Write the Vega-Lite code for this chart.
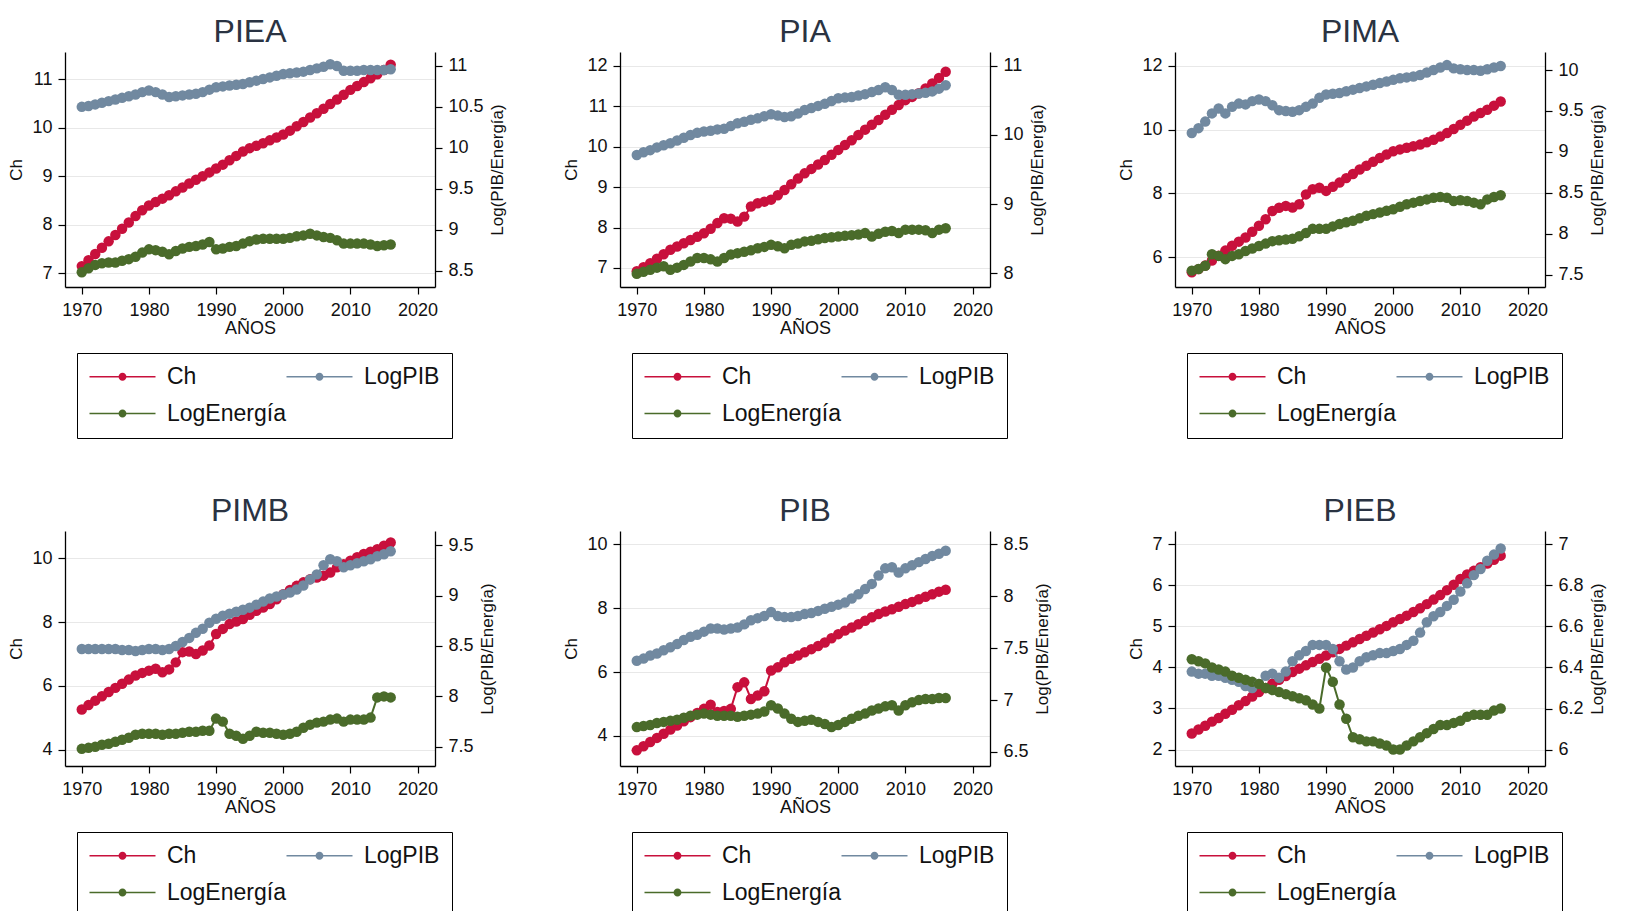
{
"$schema": "https://vega.github.io/schema/vega-lite/v6.json",
"padding": {"left": 7, "top": 16, "right": 10, "bottom": 5},
"datasets": {
"PIEA": [
{"a":1970,"Ch":7.15,"LogPIB":10.50,"LogEnergía":8.48},{"a":1971,"Ch":7.27,"LogPIB":10.51,"LogEnergía":8.53},{"a":1972,"Ch":7.40,"LogPIB":10.53,"LogEnergía":8.57},{"a":1973,"Ch":7.53,"LogPIB":10.55,"LogEnergía":8.59},{"a":1974,"Ch":7.66,"LogPIB":10.57,"LogEnergía":8.60},{"a":1975,"Ch":7.79,"LogPIB":10.59,"LogEnergía":8.60},{"a":1976,"Ch":7.92,"LogPIB":10.61,"LogEnergía":8.62},{"a":1977,"Ch":8.05,"LogPIB":10.63,"LogEnergía":8.64},{"a":1978,"Ch":8.18,"LogPIB":10.65,"LogEnergía":8.67},{"a":1979,"Ch":8.30,"LogPIB":10.68,"LogEnergía":8.72},
{"a":1980,"Ch":8.40,"LogPIB":10.70,"LogEnergía":8.76},{"a":1981,"Ch":8.47,"LogPIB":10.68,"LogEnergía":8.75},{"a":1982,"Ch":8.54,"LogPIB":10.65,"LogEnergía":8.73},{"a":1983,"Ch":8.61,"LogPIB":10.62,"LogEnergía":8.70},{"a":1984,"Ch":8.69,"LogPIB":10.63,"LogEnergía":8.74},{"a":1985,"Ch":8.77,"LogPIB":10.64,"LogEnergía":8.77},{"a":1986,"Ch":8.85,"LogPIB":10.65,"LogEnergía":8.79},{"a":1987,"Ch":8.93,"LogPIB":10.66,"LogEnergía":8.80},{"a":1988,"Ch":9.00,"LogPIB":10.68,"LogEnergía":8.82},{"a":1989,"Ch":9.08,"LogPIB":10.71,"LogEnergía":8.85},
{"a":1990,"Ch":9.16,"LogPIB":10.74,"LogEnergía":8.76},{"a":1991,"Ch":9.24,"LogPIB":10.75,"LogEnergía":8.77},{"a":1992,"Ch":9.33,"LogPIB":10.76,"LogEnergía":8.79},{"a":1993,"Ch":9.42,"LogPIB":10.77,"LogEnergía":8.80},{"a":1994,"Ch":9.51,"LogPIB":10.78,"LogEnergía":8.83},{"a":1995,"Ch":9.58,"LogPIB":10.80,"LogEnergía":8.86},{"a":1996,"Ch":9.63,"LogPIB":10.82,"LogEnergía":8.88},{"a":1997,"Ch":9.68,"LogPIB":10.84,"LogEnergía":8.89},{"a":1998,"Ch":9.74,"LogPIB":10.86,"LogEnergía":8.89},{"a":1999,"Ch":9.80,"LogPIB":10.88,"LogEnergía":8.89},
{"a":2000,"Ch":9.86,"LogPIB":10.90,"LogEnergía":8.89},{"a":2001,"Ch":9.94,"LogPIB":10.91,"LogEnergía":8.90},{"a":2002,"Ch":10.03,"LogPIB":10.92,"LogEnergía":8.92},{"a":2003,"Ch":10.12,"LogPIB":10.93,"LogEnergía":8.93},{"a":2004,"Ch":10.21,"LogPIB":10.95,"LogEnergía":8.95},{"a":2005,"Ch":10.30,"LogPIB":10.97,"LogEnergía":8.93},{"a":2006,"Ch":10.39,"LogPIB":10.99,"LogEnergía":8.91},{"a":2007,"Ch":10.49,"LogPIB":11.02,"LogEnergía":8.90},{"a":2008,"Ch":10.58,"LogPIB":11.00,"LogEnergía":8.87},{"a":2009,"Ch":10.68,"LogPIB":10.94,"LogEnergía":8.83},
{"a":2010,"Ch":10.78,"LogPIB":10.94,"LogEnergía":8.83},{"a":2011,"Ch":10.86,"LogPIB":10.94,"LogEnergía":8.83},{"a":2012,"Ch":10.94,"LogPIB":10.95,"LogEnergía":8.83},{"a":2013,"Ch":11.02,"LogPIB":10.95,"LogEnergía":8.82},{"a":2014,"Ch":11.10,"LogPIB":10.95,"LogEnergía":8.80},{"a":2015,"Ch":11.19,"LogPIB":10.95,"LogEnergía":8.81},{"a":2016,"Ch":11.30,"LogPIB":10.96,"LogEnergía":8.82}
],
"PIA": [
{"a":1970,"Ch":6.92,"LogPIB":9.71,"LogEnergía":7.99},{"a":1971,"Ch":7.02,"LogPIB":9.75,"LogEnergía":8.02},{"a":1972,"Ch":7.12,"LogPIB":9.78,"LogEnergía":8.05},{"a":1973,"Ch":7.23,"LogPIB":9.82,"LogEnergía":8.08},{"a":1974,"Ch":7.34,"LogPIB":9.85,"LogEnergía":8.10},{"a":1975,"Ch":7.45,"LogPIB":9.88,"LogEnergía":8.05},{"a":1976,"Ch":7.53,"LogPIB":9.92,"LogEnergía":8.08},{"a":1977,"Ch":7.61,"LogPIB":9.96,"LogEnergía":8.12},{"a":1978,"Ch":7.69,"LogPIB":10.00,"LogEnergía":8.17},{"a":1979,"Ch":7.77,"LogPIB":10.03,"LogEnergía":8.22},
{"a":1980,"Ch":7.86,"LogPIB":10.05,"LogEnergía":8.22},{"a":1981,"Ch":7.97,"LogPIB":10.06,"LogEnergía":8.20},{"a":1982,"Ch":8.11,"LogPIB":10.08,"LogEnergía":8.17},{"a":1983,"Ch":8.23,"LogPIB":10.09,"LogEnergía":8.22},{"a":1984,"Ch":8.22,"LogPIB":10.13,"LogEnergía":8.27},{"a":1985,"Ch":8.15,"LogPIB":10.17,"LogEnergía":8.29},{"a":1986,"Ch":8.27,"LogPIB":10.19,"LogEnergía":8.31},{"a":1987,"Ch":8.52,"LogPIB":10.22,"LogEnergía":8.33},{"a":1988,"Ch":8.60,"LogPIB":10.24,"LogEnergía":8.36},{"a":1989,"Ch":8.64,"LogPIB":10.27,"LogEnergía":8.38},
{"a":1990,"Ch":8.69,"LogPIB":10.30,"LogEnergía":8.41},{"a":1991,"Ch":8.80,"LogPIB":10.28,"LogEnergía":8.39},{"a":1992,"Ch":8.93,"LogPIB":10.26,"LogEnergía":8.36},{"a":1993,"Ch":9.07,"LogPIB":10.27,"LogEnergía":8.41},{"a":1994,"Ch":9.21,"LogPIB":10.31,"LogEnergía":8.43},{"a":1995,"Ch":9.34,"LogPIB":10.36,"LogEnergía":8.46},{"a":1996,"Ch":9.45,"LogPIB":10.39,"LogEnergía":8.47},{"a":1997,"Ch":9.56,"LogPIB":10.42,"LogEnergía":8.49},{"a":1998,"Ch":9.67,"LogPIB":10.45,"LogEnergía":8.51},{"a":1999,"Ch":9.80,"LogPIB":10.49,"LogEnergía":8.52},
{"a":2000,"Ch":9.92,"LogPIB":10.53,"LogEnergía":8.53},{"a":2001,"Ch":10.04,"LogPIB":10.54,"LogEnergía":8.54},{"a":2002,"Ch":10.16,"LogPIB":10.55,"LogEnergía":8.55},{"a":2003,"Ch":10.29,"LogPIB":10.57,"LogEnergía":8.56},{"a":2004,"Ch":10.42,"LogPIB":10.59,"LogEnergía":8.58},{"a":2005,"Ch":10.54,"LogPIB":10.62,"LogEnergía":8.53},{"a":2006,"Ch":10.66,"LogPIB":10.65,"LogEnergía":8.57},{"a":2007,"Ch":10.79,"LogPIB":10.69,"LogEnergía":8.60},{"a":2008,"Ch":10.91,"LogPIB":10.65,"LogEnergía":8.61},{"a":2009,"Ch":11.03,"LogPIB":10.58,"LogEnergía":8.58},
{"a":2010,"Ch":11.15,"LogPIB":10.58,"LogEnergía":8.63},{"a":2011,"Ch":11.23,"LogPIB":10.59,"LogEnergía":8.63},{"a":2012,"Ch":11.32,"LogPIB":10.60,"LogEnergía":8.63},{"a":2013,"Ch":11.44,"LogPIB":10.61,"LogEnergía":8.62},{"a":2014,"Ch":11.56,"LogPIB":10.63,"LogEnergía":8.58},{"a":2015,"Ch":11.70,"LogPIB":10.67,"LogEnergía":8.63},{"a":2016,"Ch":11.85,"LogPIB":10.72,"LogEnergía":8.65}
],
"PIMA": [
{"a":1970,"Ch":5.53,"LogPIB":9.23,"LogEnergía":7.55},{"a":1971,"Ch":5.63,"LogPIB":9.29,"LogEnergía":7.57},{"a":1972,"Ch":5.74,"LogPIB":9.37,"LogEnergía":7.61},{"a":1973,"Ch":5.90,"LogPIB":9.47,"LogEnergía":7.75},{"a":1974,"Ch":6.05,"LogPIB":9.53,"LogEnergía":7.73},{"a":1975,"Ch":6.21,"LogPIB":9.47,"LogEnergía":7.69},{"a":1976,"Ch":6.36,"LogPIB":9.55,"LogEnergía":7.73},{"a":1977,"Ch":6.49,"LogPIB":9.59,"LogEnergía":7.75},{"a":1978,"Ch":6.62,"LogPIB":9.58,"LogEnergía":7.79},{"a":1979,"Ch":6.80,"LogPIB":9.62,"LogEnergía":7.82},
{"a":1980,"Ch":6.99,"LogPIB":9.64,"LogEnergía":7.85},{"a":1981,"Ch":7.19,"LogPIB":9.62,"LogEnergía":7.88},{"a":1982,"Ch":7.45,"LogPIB":9.57,"LogEnergía":7.91},{"a":1983,"Ch":7.55,"LogPIB":9.51,"LogEnergía":7.92},{"a":1984,"Ch":7.61,"LogPIB":9.50,"LogEnergía":7.93},{"a":1985,"Ch":7.56,"LogPIB":9.49,"LogEnergía":7.94},{"a":1986,"Ch":7.66,"LogPIB":9.51,"LogEnergía":7.97},{"a":1987,"Ch":7.97,"LogPIB":9.55,"LogEnergía":8.01},{"a":1988,"Ch":8.13,"LogPIB":9.59,"LogEnergía":8.06},{"a":1989,"Ch":8.18,"LogPIB":9.66,"LogEnergía":8.06},
{"a":1990,"Ch":8.08,"LogPIB":9.70,"LogEnergía":8.06},{"a":1991,"Ch":8.21,"LogPIB":9.71,"LogEnergía":8.09},{"a":1992,"Ch":8.34,"LogPIB":9.72,"LogEnergía":8.12},{"a":1993,"Ch":8.48,"LogPIB":9.74,"LogEnergía":8.14},{"a":1994,"Ch":8.61,"LogPIB":9.76,"LogEnergía":8.16},{"a":1995,"Ch":8.75,"LogPIB":9.78,"LogEnergía":8.19},{"a":1996,"Ch":8.87,"LogPIB":9.80,"LogEnergía":8.22},{"a":1997,"Ch":8.99,"LogPIB":9.82,"LogEnergía":8.24},{"a":1998,"Ch":9.11,"LogPIB":9.84,"LogEnergía":8.26},{"a":1999,"Ch":9.22,"LogPIB":9.86,"LogEnergía":8.28},
{"a":2000,"Ch":9.32,"LogPIB":9.88,"LogEnergía":8.30},{"a":2001,"Ch":9.38,"LogPIB":9.90,"LogEnergía":8.33},{"a":2002,"Ch":9.43,"LogPIB":9.91,"LogEnergía":8.36},{"a":2003,"Ch":9.48,"LogPIB":9.92,"LogEnergía":8.38},{"a":2004,"Ch":9.53,"LogPIB":9.94,"LogEnergía":8.40},{"a":2005,"Ch":9.60,"LogPIB":9.97,"LogEnergía":8.42},{"a":2006,"Ch":9.68,"LogPIB":10.00,"LogEnergía":8.44},{"a":2007,"Ch":9.78,"LogPIB":10.03,"LogEnergía":8.45},{"a":2008,"Ch":9.89,"LogPIB":10.06,"LogEnergía":8.44},{"a":2009,"Ch":10.02,"LogPIB":10.02,"LogEnergía":8.40},
{"a":2010,"Ch":10.15,"LogPIB":10.01,"LogEnergía":8.41},{"a":2011,"Ch":10.28,"LogPIB":10.00,"LogEnergía":8.40},{"a":2012,"Ch":10.41,"LogPIB":10.00,"LogEnergía":8.38},{"a":2013,"Ch":10.52,"LogPIB":9.99,"LogEnergía":8.36},{"a":2014,"Ch":10.62,"LogPIB":10.01,"LogEnergía":8.42},{"a":2015,"Ch":10.75,"LogPIB":10.03,"LogEnergía":8.45},{"a":2016,"Ch":10.88,"LogPIB":10.05,"LogEnergía":8.47}
],
"PIMB": [
{"a":1970,"Ch":5.26,"LogPIB":8.47,"LogEnergía":7.48},{"a":1971,"Ch":5.40,"LogPIB":8.47,"LogEnergía":7.49},{"a":1972,"Ch":5.54,"LogPIB":8.47,"LogEnergía":7.50},{"a":1973,"Ch":5.68,"LogPIB":8.47,"LogEnergía":7.52},{"a":1974,"Ch":5.81,"LogPIB":8.47,"LogEnergía":7.53},{"a":1975,"Ch":5.94,"LogPIB":8.47,"LogEnergía":7.55},{"a":1976,"Ch":6.07,"LogPIB":8.46,"LogEnergía":7.57},{"a":1977,"Ch":6.20,"LogPIB":8.46,"LogEnergía":7.59},{"a":1978,"Ch":6.33,"LogPIB":8.45,"LogEnergía":7.62},{"a":1979,"Ch":6.41,"LogPIB":8.46,"LogEnergía":7.63},
{"a":1980,"Ch":6.48,"LogPIB":8.47,"LogEnergía":7.63},{"a":1981,"Ch":6.54,"LogPIB":8.47,"LogEnergía":7.63},{"a":1982,"Ch":6.43,"LogPIB":8.46,"LogEnergía":7.62},{"a":1983,"Ch":6.52,"LogPIB":8.47,"LogEnergía":7.63},{"a":1984,"Ch":6.74,"LogPIB":8.50,"LogEnergía":7.63},{"a":1985,"Ch":7.06,"LogPIB":8.54,"LogEnergía":7.64},{"a":1986,"Ch":7.08,"LogPIB":8.58,"LogEnergía":7.65},{"a":1987,"Ch":7.00,"LogPIB":8.63,"LogEnergía":7.65},{"a":1988,"Ch":7.11,"LogPIB":8.67,"LogEnergía":7.66},{"a":1989,"Ch":7.27,"LogPIB":8.73,"LogEnergía":7.66},
{"a":1990,"Ch":7.63,"LogPIB":8.77,"LogEnergía":7.78},{"a":1991,"Ch":7.79,"LogPIB":8.80,"LogEnergía":7.75},{"a":1992,"Ch":7.94,"LogPIB":8.82,"LogEnergía":7.63},{"a":1993,"Ch":8.02,"LogPIB":8.84,"LogEnergía":7.61},{"a":1994,"Ch":8.10,"LogPIB":8.86,"LogEnergía":7.58},{"a":1995,"Ch":8.23,"LogPIB":8.88,"LogEnergía":7.61},{"a":1996,"Ch":8.36,"LogPIB":8.91,"LogEnergía":7.65},{"a":1997,"Ch":8.46,"LogPIB":8.94,"LogEnergía":7.64},{"a":1998,"Ch":8.57,"LogPIB":8.97,"LogEnergía":7.64},{"a":1999,"Ch":8.72,"LogPIB":8.99,"LogEnergía":7.63},
{"a":2000,"Ch":8.88,"LogPIB":9.01,"LogEnergía":7.62},{"a":2001,"Ch":9.01,"LogPIB":9.03,"LogEnergía":7.63},{"a":2002,"Ch":9.14,"LogPIB":9.06,"LogEnergía":7.65},{"a":2003,"Ch":9.25,"LogPIB":9.10,"LogEnergía":7.69},{"a":2004,"Ch":9.35,"LogPIB":9.16,"LogEnergía":7.72},{"a":2005,"Ch":9.40,"LogPIB":9.21,"LogEnergía":7.74},{"a":2006,"Ch":9.46,"LogPIB":9.30,"LogEnergía":7.75},{"a":2007,"Ch":9.56,"LogPIB":9.36,"LogEnergía":7.77},{"a":2008,"Ch":9.72,"LogPIB":9.34,"LogEnergía":7.78},{"a":2009,"Ch":9.82,"LogPIB":9.28,"LogEnergía":7.75},
{"a":2010,"Ch":9.93,"LogPIB":9.30,"LogEnergía":7.77},{"a":2011,"Ch":10.04,"LogPIB":9.32,"LogEnergía":7.77},{"a":2012,"Ch":10.14,"LogPIB":9.34,"LogEnergía":7.77},{"a":2013,"Ch":10.21,"LogPIB":9.36,"LogEnergía":7.79},{"a":2014,"Ch":10.29,"LogPIB":9.39,"LogEnergía":7.99},{"a":2015,"Ch":10.40,"LogPIB":9.41,"LogEnergía":8.00},{"a":2016,"Ch":10.50,"LogPIB":9.44,"LogEnergía":7.99}
],
"PIB": [
{"a":1970,"Ch":3.55,"LogPIB":7.38,"LogEnergía":6.74},{"a":1971,"Ch":3.68,"LogPIB":7.40,"LogEnergía":6.75},{"a":1972,"Ch":3.81,"LogPIB":7.43,"LogEnergía":6.76},{"a":1973,"Ch":3.94,"LogPIB":7.45,"LogEnergía":6.78},{"a":1974,"Ch":4.07,"LogPIB":7.48,"LogEnergía":6.79},{"a":1975,"Ch":4.20,"LogPIB":7.51,"LogEnergía":6.80},{"a":1976,"Ch":4.33,"LogPIB":7.54,"LogEnergía":6.81},{"a":1977,"Ch":4.46,"LogPIB":7.58,"LogEnergía":6.83},{"a":1978,"Ch":4.59,"LogPIB":7.61,"LogEnergía":6.85},{"a":1979,"Ch":4.72,"LogPIB":7.63,"LogEnergía":6.86},
{"a":1980,"Ch":4.85,"LogPIB":7.66,"LogEnergía":6.87},{"a":1981,"Ch":4.98,"LogPIB":7.69,"LogEnergía":6.86},{"a":1982,"Ch":4.75,"LogPIB":7.69,"LogEnergía":6.85},{"a":1983,"Ch":4.78,"LogPIB":7.68,"LogEnergía":6.85},{"a":1984,"Ch":4.85,"LogPIB":7.69,"LogEnergía":6.85},{"a":1985,"Ch":5.53,"LogPIB":7.70,"LogEnergía":6.84},{"a":1986,"Ch":5.68,"LogPIB":7.73,"LogEnergía":6.85},{"a":1987,"Ch":5.16,"LogPIB":7.77,"LogEnergía":6.86},{"a":1988,"Ch":5.27,"LogPIB":7.79,"LogEnergía":6.87},{"a":1989,"Ch":5.40,"LogPIB":7.81,"LogEnergía":6.89},
{"a":1990,"Ch":6.05,"LogPIB":7.85,"LogEnergía":6.95},{"a":1991,"Ch":6.15,"LogPIB":7.81,"LogEnergía":6.92},{"a":1992,"Ch":6.31,"LogPIB":7.80,"LogEnergía":6.87},{"a":1993,"Ch":6.42,"LogPIB":7.80,"LogEnergía":6.82},{"a":1994,"Ch":6.52,"LogPIB":7.81,"LogEnergía":6.79},{"a":1995,"Ch":6.62,"LogPIB":7.83,"LogEnergía":6.80},{"a":1996,"Ch":6.72,"LogPIB":7.84,"LogEnergía":6.81},{"a":1997,"Ch":6.82,"LogPIB":7.86,"LogEnergía":6.79},{"a":1998,"Ch":6.93,"LogPIB":7.88,"LogEnergía":6.77},{"a":1999,"Ch":7.06,"LogPIB":7.90,"LogEnergía":6.74},
{"a":2000,"Ch":7.19,"LogPIB":7.92,"LogEnergía":6.76},{"a":2001,"Ch":7.30,"LogPIB":7.94,"LogEnergía":6.79},{"a":2002,"Ch":7.40,"LogPIB":7.98,"LogEnergía":6.82},{"a":2003,"Ch":7.50,"LogPIB":8.02,"LogEnergía":6.85},{"a":2004,"Ch":7.61,"LogPIB":8.07,"LogEnergía":6.87},{"a":2005,"Ch":7.72,"LogPIB":8.12,"LogEnergía":6.90},{"a":2006,"Ch":7.82,"LogPIB":8.20,"LogEnergía":6.92},{"a":2007,"Ch":7.90,"LogPIB":8.27,"LogEnergía":6.94},{"a":2008,"Ch":7.97,"LogPIB":8.28,"LogEnergía":6.95},{"a":2009,"Ch":8.05,"LogPIB":8.23,"LogEnergía":6.90},
{"a":2010,"Ch":8.13,"LogPIB":8.27,"LogEnergía":6.95},{"a":2011,"Ch":8.20,"LogPIB":8.30,"LogEnergía":6.98},{"a":2012,"Ch":8.28,"LogPIB":8.33,"LogEnergía":7.00},{"a":2013,"Ch":8.36,"LogPIB":8.36,"LogEnergía":7.01},{"a":2014,"Ch":8.44,"LogPIB":8.39,"LogEnergía":7.01},{"a":2015,"Ch":8.52,"LogPIB":8.41,"LogEnergía":7.02},{"a":2016,"Ch":8.58,"LogPIB":8.44,"LogEnergía":7.02}
],
"PIEB": [
{"a":1970,"Ch":2.39,"LogPIB":6.38,"LogEnergía":6.44},{"a":1971,"Ch":2.49,"LogPIB":6.37,"LogEnergía":6.43},{"a":1972,"Ch":2.58,"LogPIB":6.37,"LogEnergía":6.42},{"a":1973,"Ch":2.68,"LogPIB":6.36,"LogEnergía":6.40},{"a":1974,"Ch":2.77,"LogPIB":6.36,"LogEnergía":6.39},{"a":1975,"Ch":2.87,"LogPIB":6.35,"LogEnergía":6.38},{"a":1976,"Ch":2.97,"LogPIB":6.34,"LogEnergía":6.36},{"a":1977,"Ch":3.08,"LogPIB":6.33,"LogEnergía":6.35},{"a":1978,"Ch":3.18,"LogPIB":6.31,"LogEnergía":6.34},{"a":1979,"Ch":3.29,"LogPIB":6.30,"LogEnergía":6.33},
{"a":1980,"Ch":3.40,"LogPIB":6.32,"LogEnergía":6.32},{"a":1981,"Ch":3.50,"LogPIB":6.36,"LogEnergía":6.30},{"a":1982,"Ch":3.60,"LogPIB":6.37,"LogEnergía":6.29},{"a":1983,"Ch":3.70,"LogPIB":6.35,"LogEnergía":6.28},{"a":1984,"Ch":3.79,"LogPIB":6.38,"LogEnergía":6.27},{"a":1985,"Ch":3.89,"LogPIB":6.43,"LogEnergía":6.26},{"a":1986,"Ch":3.97,"LogPIB":6.46,"LogEnergía":6.25},{"a":1987,"Ch":4.05,"LogPIB":6.48,"LogEnergía":6.24},{"a":1988,"Ch":4.13,"LogPIB":6.51,"LogEnergía":6.22},{"a":1989,"Ch":4.21,"LogPIB":6.51,"LogEnergía":6.20},
{"a":1990,"Ch":4.29,"LogPIB":6.51,"LogEnergía":6.40},{"a":1991,"Ch":4.37,"LogPIB":6.49,"LogEnergía":6.33},{"a":1992,"Ch":4.45,"LogPIB":6.43,"LogEnergía":6.22},{"a":1993,"Ch":4.53,"LogPIB":6.39,"LogEnergía":6.15},{"a":1994,"Ch":4.61,"LogPIB":6.40,"LogEnergía":6.06},{"a":1995,"Ch":4.69,"LogPIB":6.43,"LogEnergía":6.05},{"a":1996,"Ch":4.77,"LogPIB":6.45,"LogEnergía":6.04},{"a":1997,"Ch":4.85,"LogPIB":6.46,"LogEnergía":6.04},{"a":1998,"Ch":4.93,"LogPIB":6.47,"LogEnergía":6.03},{"a":1999,"Ch":5.01,"LogPIB":6.47,"LogEnergía":6.02},
{"a":2000,"Ch":5.10,"LogPIB":6.48,"LogEnergía":6.00},{"a":2001,"Ch":5.18,"LogPIB":6.49,"LogEnergía":6.00},{"a":2002,"Ch":5.26,"LogPIB":6.51,"LogEnergía":6.02},{"a":2003,"Ch":5.35,"LogPIB":6.53,"LogEnergía":6.04},{"a":2004,"Ch":5.44,"LogPIB":6.57,"LogEnergía":6.06},{"a":2005,"Ch":5.54,"LogPIB":6.62,"LogEnergía":6.08},{"a":2006,"Ch":5.65,"LogPIB":6.65,"LogEnergía":6.10},{"a":2007,"Ch":5.76,"LogPIB":6.67,"LogEnergía":6.12},{"a":2008,"Ch":5.88,"LogPIB":6.70,"LogEnergía":6.12},{"a":2009,"Ch":6.01,"LogPIB":6.73,"LogEnergía":6.13},
{"a":2010,"Ch":6.15,"LogPIB":6.77,"LogEnergía":6.14},{"a":2011,"Ch":6.26,"LogPIB":6.81,"LogEnergía":6.16},{"a":2012,"Ch":6.35,"LogPIB":6.85,"LogEnergía":6.17},{"a":2013,"Ch":6.44,"LogPIB":6.88,"LogEnergía":6.17},{"a":2014,"Ch":6.53,"LogPIB":6.92,"LogEnergía":6.17},{"a":2015,"Ch":6.62,"LogPIB":6.95,"LogEnergía":6.19},{"a":2016,"Ch":6.72,"LogPIB":6.98,"LogEnergía":6.20}
]
},
"columns": 3,
"spacing": {"row": 244, "column": 185},
"bounds": "flush",
"resolve": {"scale": {"color": "independent"}, "legend": {"color": "independent"}},
"concat": [
{"title": "PIEA", "data": {"name": "PIEA"}, "width": 370, "height": 235,
 "transform": [{"fold": ["Ch","LogPIB","LogEnergía"], "as": ["serie","valor"]}],
 "encoding": {"x": {"field": "a", "type": "quantitative", "scale": {"domain": [1967.5, 2022.6], "nice": false, "zero": false}, "axis": {"values": [1970,1980,1990,2000,2010,2020], "format": "d", "title": "AÑOS", "grid": false}}},
 "layer": [
  {"transform": [{"filter": "datum.serie == 'Ch'"}],
   "encoding": {"y": {"field": "valor", "type": "quantitative", "scale": {"domain": [6.72, 11.56], "nice": false, "zero": false}, "axis": {"orient": "left", "title": "Ch", "values": [7,8,9,10,11], "format": "~r", "grid": true}}},
   "layer": [
    {"mark": {"type": "line", "strokeWidth": 2}, "encoding": {"stroke": {"field": "serie", "type": "nominal", "scale": {"domain": ["Ch","LogPIB","LogEnergía"], "range": ["#c8103c","#7189a0","#4a6b2a"]}, "legend": null}}},
    {"mark": {"type": "point", "filled": true, "size": 110, "opacity": 1, "strokeWidth": 0}, "encoding": {"color": {"field": "serie", "type": "nominal", "scale": {"domain": ["Ch","LogPIB","LogEnergía"], "range": ["#c8103c","#7189a0","#4a6b2a"]}, "legend": {"orient": "none", "legendX": 12, "legendY": 301, "title": null, "direction": "horizontal", "columns": 2, "gridAlign": "each", "symbolType": "M-3,-0.07L3,-0.07L3,0.07L-3,0.07Z M-0.36,0A0.36,0.36 0 1,1 0.36,0A0.36,0.36 0 1,1 -0.36,0Z", "symbolSize": 484, "symbolOffset": 22, "symbolStrokeWidth": 0}}}}
   ]},
  {"transform": [{"filter": "datum.serie != 'Ch'"}],
   "encoding": {"y": {"field": "valor", "type": "quantitative", "scale": {"domain": [8.30, 11.17], "nice": false, "zero": false}, "axis": {"orient": "right", "title": "Log(PIB/Energía)", "titleAngle": 270, "titleBaseline": "top", "values": [8.5,9,9.5,10,10.5,11], "format": "~r", "grid": false}}},
   "layer": [
    {"mark": {"type": "line", "strokeWidth": 2}, "encoding": {"stroke": {"field": "serie", "type": "nominal", "scale": {"domain": ["Ch","LogPIB","LogEnergía"], "range": ["#c8103c","#7189a0","#4a6b2a"]}, "legend": null}}},
    {"mark": {"type": "point", "filled": true, "size": 110, "opacity": 1, "strokeWidth": 0}, "encoding": {"color": {"field": "serie", "type": "nominal", "scale": {"domain": ["Ch","LogPIB","LogEnergía"], "range": ["#c8103c","#7189a0","#4a6b2a"]}, "legend": {"orient": "none", "legendX": 12, "legendY": 301, "title": null, "direction": "horizontal", "columns": 2, "gridAlign": "each", "symbolType": "M-3,-0.07L3,-0.07L3,0.07L-3,0.07Z M-0.36,0A0.36,0.36 0 1,1 0.36,0A0.36,0.36 0 1,1 -0.36,0Z", "symbolSize": 484, "symbolOffset": 22, "symbolStrokeWidth": 0}}}}
   ]}
 ],
 "resolve": {"scale": {"y": "independent"}}
},
{"title": "PIA", "data": {"name": "PIA"}, "width": 370, "height": 235,
 "transform": [{"fold": ["Ch","LogPIB","LogEnergía"], "as": ["serie","valor"]}],
 "encoding": {"x": {"field": "a", "type": "quantitative", "scale": {"domain": [1967.5, 2022.6], "nice": false, "zero": false}, "axis": {"values": [1970,1980,1990,2000,2010,2020], "format": "d", "title": "AÑOS", "grid": false}}},
 "layer": [
  {"transform": [{"filter": "datum.serie == 'Ch'"}],
   "encoding": {"y": {"field": "valor", "type": "quantitative", "scale": {"domain": [6.53, 12.34], "nice": false, "zero": false}, "axis": {"orient": "left", "title": "Ch", "values": [7,8,9,10,11,12], "format": "~r", "grid": true}}},
   "layer": [
    {"mark": {"type": "line", "strokeWidth": 2}, "encoding": {"stroke": {"field": "serie", "type": "nominal", "scale": {"domain": ["Ch","LogPIB","LogEnergía"], "range": ["#c8103c","#7189a0","#4a6b2a"]}, "legend": null}}},
    {"mark": {"type": "point", "filled": true, "size": 110, "opacity": 1, "strokeWidth": 0}, "encoding": {"color": {"field": "serie", "type": "nominal", "scale": {"domain": ["Ch","LogPIB","LogEnergía"], "range": ["#c8103c","#7189a0","#4a6b2a"]}, "legend": {"orient": "none", "legendX": 12, "legendY": 301, "title": null, "direction": "horizontal", "columns": 2, "gridAlign": "each", "symbolType": "M-3,-0.07L3,-0.07L3,0.07L-3,0.07Z M-0.36,0A0.36,0.36 0 1,1 0.36,0A0.36,0.36 0 1,1 -0.36,0Z", "symbolSize": 484, "symbolOffset": 22, "symbolStrokeWidth": 0}}}}
   ]},
  {"transform": [{"filter": "datum.serie != 'Ch'"}],
   "encoding": {"y": {"field": "valor", "type": "quantitative", "scale": {"domain": [7.8, 11.2], "nice": false, "zero": false}, "axis": {"orient": "right", "title": "Log(PIB/Energía)", "titleAngle": 270, "titleBaseline": "top", "values": [8,9,10,11], "format": "~r", "grid": false}}},
   "layer": [
    {"mark": {"type": "line", "strokeWidth": 2}, "encoding": {"stroke": {"field": "serie", "type": "nominal", "scale": {"domain": ["Ch","LogPIB","LogEnergía"], "range": ["#c8103c","#7189a0","#4a6b2a"]}, "legend": null}}},
    {"mark": {"type": "point", "filled": true, "size": 110, "opacity": 1, "strokeWidth": 0}, "encoding": {"color": {"field": "serie", "type": "nominal", "scale": {"domain": ["Ch","LogPIB","LogEnergía"], "range": ["#c8103c","#7189a0","#4a6b2a"]}, "legend": {"orient": "none", "legendX": 12, "legendY": 301, "title": null, "direction": "horizontal", "columns": 2, "gridAlign": "each", "symbolType": "M-3,-0.07L3,-0.07L3,0.07L-3,0.07Z M-0.36,0A0.36,0.36 0 1,1 0.36,0A0.36,0.36 0 1,1 -0.36,0Z", "symbolSize": 484, "symbolOffset": 22, "symbolStrokeWidth": 0}}}}
   ]}
 ],
 "resolve": {"scale": {"y": "independent"}}
},
{"title": "PIMA", "data": {"name": "PIMA"}, "width": 370, "height": 235,
 "transform": [{"fold": ["Ch","LogPIB","LogEnergía"], "as": ["serie","valor"]}],
 "encoding": {"x": {"field": "a", "type": "quantitative", "scale": {"domain": [1967.5, 2022.6], "nice": false, "zero": false}, "axis": {"values": [1970,1980,1990,2000,2010,2020], "format": "d", "title": "AÑOS", "grid": false}}},
 "layer": [
  {"transform": [{"filter": "datum.serie == 'Ch'"}],
   "encoding": {"y": {"field": "valor", "type": "quantitative", "scale": {"domain": [5.07, 12.43], "nice": false, "zero": false}, "axis": {"orient": "left", "title": "Ch", "values": [6,8,10,12], "format": "~r", "grid": true}}},
   "layer": [
    {"mark": {"type": "line", "strokeWidth": 2}, "encoding": {"stroke": {"field": "serie", "type": "nominal", "scale": {"domain": ["Ch","LogPIB","LogEnergía"], "range": ["#c8103c","#7189a0","#4a6b2a"]}, "legend": null}}},
    {"mark": {"type": "point", "filled": true, "size": 110, "opacity": 1, "strokeWidth": 0}, "encoding": {"color": {"field": "serie", "type": "nominal", "scale": {"domain": ["Ch","LogPIB","LogEnergía"], "range": ["#c8103c","#7189a0","#4a6b2a"]}, "legend": {"orient": "none", "legendX": 12, "legendY": 301, "title": null, "direction": "horizontal", "columns": 2, "gridAlign": "each", "symbolType": "M-3,-0.07L3,-0.07L3,0.07L-3,0.07Z M-0.36,0A0.36,0.36 0 1,1 0.36,0A0.36,0.36 0 1,1 -0.36,0Z", "symbolSize": 484, "symbolOffset": 22, "symbolStrokeWidth": 0}}}}
   ]},
  {"transform": [{"filter": "datum.serie != 'Ch'"}],
   "encoding": {"y": {"field": "valor", "type": "quantitative", "scale": {"domain": [7.35, 10.22], "nice": false, "zero": false}, "axis": {"orient": "right", "title": "Log(PIB/Energía)", "titleAngle": 270, "titleBaseline": "top", "values": [7.5,8,8.5,9,9.5,10], "format": "~r", "grid": false}}},
   "layer": [
    {"mark": {"type": "line", "strokeWidth": 2}, "encoding": {"stroke": {"field": "serie", "type": "nominal", "scale": {"domain": ["Ch","LogPIB","LogEnergía"], "range": ["#c8103c","#7189a0","#4a6b2a"]}, "legend": null}}},
    {"mark": {"type": "point", "filled": true, "size": 110, "opacity": 1, "strokeWidth": 0}, "encoding": {"color": {"field": "serie", "type": "nominal", "scale": {"domain": ["Ch","LogPIB","LogEnergía"], "range": ["#c8103c","#7189a0","#4a6b2a"]}, "legend": {"orient": "none", "legendX": 12, "legendY": 301, "title": null, "direction": "horizontal", "columns": 2, "gridAlign": "each", "symbolType": "M-3,-0.07L3,-0.07L3,0.07L-3,0.07Z M-0.36,0A0.36,0.36 0 1,1 0.36,0A0.36,0.36 0 1,1 -0.36,0Z", "symbolSize": 484, "symbolOffset": 22, "symbolStrokeWidth": 0}}}}
   ]}
 ],
 "resolve": {"scale": {"y": "independent"}}
},
{"title": "PIMB", "data": {"name": "PIMB"}, "width": 370, "height": 235,
 "transform": [{"fold": ["Ch","LogPIB","LogEnergía"], "as": ["serie","valor"]}],
 "encoding": {"x": {"field": "a", "type": "quantitative", "scale": {"domain": [1967.5, 2022.6], "nice": false, "zero": false}, "axis": {"values": [1970,1980,1990,2000,2010,2020], "format": "d", "title": "AÑOS", "grid": false}}},
 "layer": [
  {"transform": [{"filter": "datum.serie == 'Ch'"}],
   "encoding": {"y": {"field": "valor", "type": "quantitative", "scale": {"domain": [3.49, 10.86], "nice": false, "zero": false}, "axis": {"orient": "left", "title": "Ch", "values": [4,6,8,10], "format": "~r", "grid": true}}},
   "layer": [
    {"mark": {"type": "line", "strokeWidth": 2}, "encoding": {"stroke": {"field": "serie", "type": "nominal", "scale": {"domain": ["Ch","LogPIB","LogEnergía"], "range": ["#c8103c","#7189a0","#4a6b2a"]}, "legend": null}}},
    {"mark": {"type": "point", "filled": true, "size": 110, "opacity": 1, "strokeWidth": 0}, "encoding": {"color": {"field": "serie", "type": "nominal", "scale": {"domain": ["Ch","LogPIB","LogEnergía"], "range": ["#c8103c","#7189a0","#4a6b2a"]}, "legend": {"orient": "none", "legendX": 12, "legendY": 301, "title": null, "direction": "horizontal", "columns": 2, "gridAlign": "each", "symbolType": "M-3,-0.07L3,-0.07L3,0.07L-3,0.07Z M-0.36,0A0.36,0.36 0 1,1 0.36,0A0.36,0.36 0 1,1 -0.36,0Z", "symbolSize": 484, "symbolOffset": 22, "symbolStrokeWidth": 0}}}}
   ]},
  {"transform": [{"filter": "datum.serie != 'Ch'"}],
   "encoding": {"y": {"field": "valor", "type": "quantitative", "scale": {"domain": [7.31, 9.64], "nice": false, "zero": false}, "axis": {"orient": "right", "title": "Log(PIB/Energía)", "titleAngle": 270, "titleBaseline": "top", "values": [7.5,8,8.5,9,9.5], "format": "~r", "grid": false}}},
   "layer": [
    {"mark": {"type": "line", "strokeWidth": 2}, "encoding": {"stroke": {"field": "serie", "type": "nominal", "scale": {"domain": ["Ch","LogPIB","LogEnergía"], "range": ["#c8103c","#7189a0","#4a6b2a"]}, "legend": null}}},
    {"mark": {"type": "point", "filled": true, "size": 110, "opacity": 1, "strokeWidth": 0}, "encoding": {"color": {"field": "serie", "type": "nominal", "scale": {"domain": ["Ch","LogPIB","LogEnergía"], "range": ["#c8103c","#7189a0","#4a6b2a"]}, "legend": {"orient": "none", "legendX": 12, "legendY": 301, "title": null, "direction": "horizontal", "columns": 2, "gridAlign": "each", "symbolType": "M-3,-0.07L3,-0.07L3,0.07L-3,0.07Z M-0.36,0A0.36,0.36 0 1,1 0.36,0A0.36,0.36 0 1,1 -0.36,0Z", "symbolSize": 484, "symbolOffset": 22, "symbolStrokeWidth": 0}}}}
   ]}
 ],
 "resolve": {"scale": {"y": "independent"}}
},
{"title": "PIB", "data": {"name": "PIB"}, "width": 370, "height": 235,
 "transform": [{"fold": ["Ch","LogPIB","LogEnergía"], "as": ["serie","valor"]}],
 "encoding": {"x": {"field": "a", "type": "quantitative", "scale": {"domain": [1967.5, 2022.6], "nice": false, "zero": false}, "axis": {"values": [1970,1980,1990,2000,2010,2020], "format": "d", "title": "AÑOS", "grid": false}}},
 "layer": [
  {"transform": [{"filter": "datum.serie == 'Ch'"}],
   "encoding": {"y": {"field": "valor", "type": "quantitative", "scale": {"domain": [3.06, 10.42], "nice": false, "zero": false}, "axis": {"orient": "left", "title": "Ch", "values": [4,6,8,10], "format": "~r", "grid": true}}},
   "layer": [
    {"mark": {"type": "line", "strokeWidth": 2}, "encoding": {"stroke": {"field": "serie", "type": "nominal", "scale": {"domain": ["Ch","LogPIB","LogEnergía"], "range": ["#c8103c","#7189a0","#4a6b2a"]}, "legend": null}}},
    {"mark": {"type": "point", "filled": true, "size": 110, "opacity": 1, "strokeWidth": 0}, "encoding": {"color": {"field": "serie", "type": "nominal", "scale": {"domain": ["Ch","LogPIB","LogEnergía"], "range": ["#c8103c","#7189a0","#4a6b2a"]}, "legend": {"orient": "none", "legendX": 12, "legendY": 301, "title": null, "direction": "horizontal", "columns": 2, "gridAlign": "each", "symbolType": "M-3,-0.07L3,-0.07L3,0.07L-3,0.07Z M-0.36,0A0.36,0.36 0 1,1 0.36,0A0.36,0.36 0 1,1 -0.36,0Z", "symbolSize": 484, "symbolOffset": 22, "symbolStrokeWidth": 0}}}}
   ]},
  {"transform": [{"filter": "datum.serie != 'Ch'"}],
   "encoding": {"y": {"field": "valor", "type": "quantitative", "scale": {"domain": [6.365, 8.63], "nice": false, "zero": false}, "axis": {"orient": "right", "title": "Log(PIB/Energía)", "titleAngle": 270, "titleBaseline": "top", "values": [6.5,7,7.5,8,8.5], "format": "~r", "grid": false}}},
   "layer": [
    {"mark": {"type": "line", "strokeWidth": 2}, "encoding": {"stroke": {"field": "serie", "type": "nominal", "scale": {"domain": ["Ch","LogPIB","LogEnergía"], "range": ["#c8103c","#7189a0","#4a6b2a"]}, "legend": null}}},
    {"mark": {"type": "point", "filled": true, "size": 110, "opacity": 1, "strokeWidth": 0}, "encoding": {"color": {"field": "serie", "type": "nominal", "scale": {"domain": ["Ch","LogPIB","LogEnergía"], "range": ["#c8103c","#7189a0","#4a6b2a"]}, "legend": {"orient": "none", "legendX": 12, "legendY": 301, "title": null, "direction": "horizontal", "columns": 2, "gridAlign": "each", "symbolType": "M-3,-0.07L3,-0.07L3,0.07L-3,0.07Z M-0.36,0A0.36,0.36 0 1,1 0.36,0A0.36,0.36 0 1,1 -0.36,0Z", "symbolSize": 484, "symbolOffset": 22, "symbolStrokeWidth": 0}}}}
   ]}
 ],
 "resolve": {"scale": {"y": "independent"}}
},
{"title": "PIEB", "data": {"name": "PIEB"}, "width": 370, "height": 235,
 "transform": [{"fold": ["Ch","LogPIB","LogEnergía"], "as": ["serie","valor"]}],
 "encoding": {"x": {"field": "a", "type": "quantitative", "scale": {"domain": [1967.5, 2022.6], "nice": false, "zero": false}, "axis": {"values": [1970,1980,1990,2000,2010,2020], "format": "d", "title": "AÑOS", "grid": false}}},
 "layer": [
  {"transform": [{"filter": "datum.serie == 'Ch'"}],
   "encoding": {"y": {"field": "valor", "type": "quantitative", "scale": {"domain": [1.60, 7.32], "nice": false, "zero": false}, "axis": {"orient": "left", "title": "Ch", "values": [2,3,4,5,6,7], "format": "~r", "grid": true}}},
   "layer": [
    {"mark": {"type": "line", "strokeWidth": 2}, "encoding": {"stroke": {"field": "serie", "type": "nominal", "scale": {"domain": ["Ch","LogPIB","LogEnergía"], "range": ["#c8103c","#7189a0","#4a6b2a"]}, "legend": null}}},
    {"mark": {"type": "point", "filled": true, "size": 110, "opacity": 1, "strokeWidth": 0}, "encoding": {"color": {"field": "serie", "type": "nominal", "scale": {"domain": ["Ch","LogPIB","LogEnergía"], "range": ["#c8103c","#7189a0","#4a6b2a"]}, "legend": {"orient": "none", "legendX": 12, "legendY": 301, "title": null, "direction": "horizontal", "columns": 2, "gridAlign": "each", "symbolType": "M-3,-0.07L3,-0.07L3,0.07L-3,0.07Z M-0.36,0A0.36,0.36 0 1,1 0.36,0A0.36,0.36 0 1,1 -0.36,0Z", "symbolSize": 484, "symbolOffset": 22, "symbolStrokeWidth": 0}}}}
   ]},
  {"transform": [{"filter": "datum.serie != 'Ch'"}],
   "encoding": {"y": {"field": "valor", "type": "quantitative", "scale": {"domain": [5.92, 7.065], "nice": false, "zero": false}, "axis": {"orient": "right", "title": "Log(PIB/Energía)", "titleAngle": 270, "titleBaseline": "top", "values": [6,6.2,6.4,6.6,6.8,7], "format": "~r", "grid": false}}},
   "layer": [
    {"mark": {"type": "line", "strokeWidth": 2}, "encoding": {"stroke": {"field": "serie", "type": "nominal", "scale": {"domain": ["Ch","LogPIB","LogEnergía"], "range": ["#c8103c","#7189a0","#4a6b2a"]}, "legend": null}}},
    {"mark": {"type": "point", "filled": true, "size": 110, "opacity": 1, "strokeWidth": 0}, "encoding": {"color": {"field": "serie", "type": "nominal", "scale": {"domain": ["Ch","LogPIB","LogEnergía"], "range": ["#c8103c","#7189a0","#4a6b2a"]}, "legend": {"orient": "none", "legendX": 12, "legendY": 301, "title": null, "direction": "horizontal", "columns": 2, "gridAlign": "each", "symbolType": "M-3,-0.07L3,-0.07L3,0.07L-3,0.07Z M-0.36,0A0.36,0.36 0 1,1 0.36,0A0.36,0.36 0 1,1 -0.36,0Z", "symbolSize": 484, "symbolOffset": 22, "symbolStrokeWidth": 0}}}}
   ]}
 ],
 "resolve": {"scale": {"y": "independent"}}
}
],
"config": {
 "view": {"stroke": null},
 "font": "Liberation Sans",
 "title": {"font": "Liberation Sans", "fontSize": 32, "fontWeight": "normal", "color": "#2a3342", "offset": 3, "anchor": "middle"},
 "axis": {"labelFont": "Liberation Sans", "labelFontSize": 18, "labelColor": "#111111", "titleFont": "Liberation Sans", "titleFontSize": 17, "titleFontWeight": "normal", "titleColor": "#111111", "domainColor": "#000000", "domainWidth": 1.3, "tickColor": "#000000", "tickSize": 7, "tickWidth": 1.2, "labelPadding": 6, "gridColor": "#e8e8e8", "gridWidth": 1},
 "axisX": {"titlePadding": 0, "titleFontSize": 18, "labelPadding": 7},
 "axisY": {"titlePadding": 6},
 "legend": {"labelFont": "Liberation Sans", "labelFontSize": 23, "labelColor": "#111111", "labelOffset": 33, "columnPadding": -33, "rowPadding": 13, "padding": 12, "strokeColor": "#000000", "labelLimit": 300}
}
}
